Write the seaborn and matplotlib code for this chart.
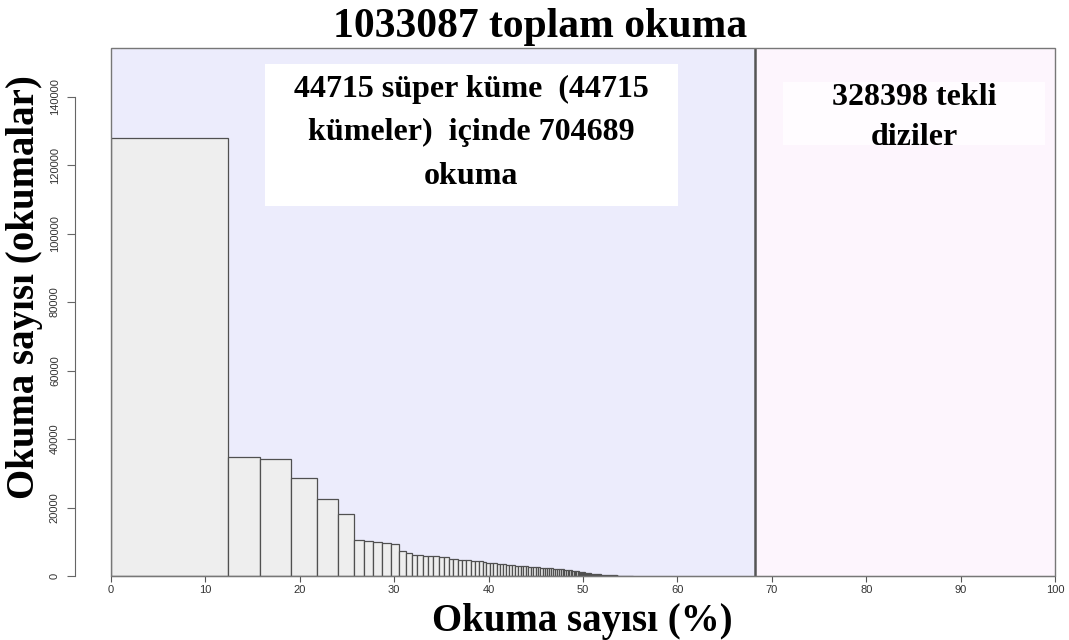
import numpy as np
import pandas as pd
import matplotlib
matplotlib.use("Agg")
import matplotlib.pyplot as plt
import seaborn as sns
from matplotlib.patches import Rectangle

# Read totals
total_reads = 1033087
supercluster_reads = 704689
supercluster_count = 44715
singleton_reads = 328398

# Supercluster sizes (reads), largest first, and how many superclusters share each size
cluster_size = [128000, 34800, 34100, 28600, 22500, 18200,
                10400, 10100, 9800, 9500, 9200,
                7200, 6700, 6200, 6000, 5800, 5700, 5600, 5500,
                5000, 4900, 4800, 4700, 4600, 4500, 4400, 4300,
                4000, 3900, 3800, 3700, 3600, 3500, 3400, 3300, 3200,
                3100, 3000, 2950, 2900, 2850, 2800, 2750, 2700, 2650, 2600, 2500,
                2450, 2400, 2350, 2300, 2250, 2200, 2150, 2100, 2050, 2000, 1950, 1900, 1850,
                1800, 1650, 1500, 1350, 1200, 1050, 900, 800, 700, 600, 500,
                400, 300, 250, 200, 150, 100, 60, 40, 25, 15]
cluster_n = [1, 1, 1, 1, 1, 1,
             1, 1, 1, 1, 1,
             1, 1, 1, 1, 1, 2, 1, 1,
             1, 1, 1, 1, 1, 1, 1, 1,
             1, 1, 1, 1, 1, 1, 1, 1, 1,
             1, 1, 1, 1, 1, 1, 1, 1, 1, 1, 1,
             1, 1, 1, 1, 1, 1, 1, 1, 1, 1, 1, 1, 1,
             2, 2, 2, 3, 3, 3, 4, 4, 5, 6, 7,
             9, 12, 14, 18, 24, 40, 60, 80, 120, 200]

y_ticks = [0, 20000, 40000, 60000, 80000, 100000, 120000, 140000]
x_ticks = [0, 10, 20, 30, 40, 50, 60, 70, 80, 90, 100]

title = f"{total_reads} toplam okuma"
super_lines = [f"{supercluster_count} süper küme  ({supercluster_count}",
               f"kümeler)  içinde {supercluster_reads}",
               "okuma"]
single_lines = [f"{singleton_reads} tekli", "diziler"]

# Each bar: width = share of all reads (%), height = reads in that supercluster
sizes = np.repeat(np.array(cluster_size, dtype=float), cluster_n)
widths = sizes / total_reads * 100
edges = np.concatenate([[0.0], np.cumsum(widths)])
bars = pd.DataFrame({"pos": edges[:-1] + widths / 2, "reads": sizes})
split = supercluster_reads / total_reads * 100

sns.set_style("white")
serif = ["Liberation Serif", "DejaVu Serif"]
sans = ["Liberation Sans", "DejaVu Sans"]

fig = plt.figure(figsize=(10.69, 6.40), dpi=100)
ax = fig.add_axes([111 / 1069, 1 - 576 / 640, (1055 - 111) / 1069, (576 - 48) / 640])

ax.axvspan(0, split, color="#ececfc", zorder=0, lw=0)
ax.axvspan(split, 100, color="#fdf5fd", zorder=0, lw=0)

sns.histplot(data=bars, x="pos", weights="reads", bins=edges.tolist(), stat="count",
             color="#eeeeee", edgecolor="#505050", linewidth=0.9, alpha=1,
             ax=ax, zorder=2)

ax.axvline(split, color="#555555", lw=1.8, zorder=3)
ax.add_patch(Rectangle((0, 0), 1, 1, transform=ax.transAxes, fill=False,
                       ec="#777777", lw=1.0, clip_on=False, zorder=5))

ax.set_xlim(0, 100)
ax.set_ylim(0, 154200)

# Annotation boxes, one text line at a time on its own baseline
ax.add_patch(Rectangle((16.36, 108070), 60.05 - 16.36, 149600 - 108070,
                       fc="white", ec="none", zorder=4))
for line, base in zip(super_lines, [139900, 127300, 114500]):
    ax.text(38.15, base, line, ha="center", va="baseline", fontsize=23,
            fontweight="bold", family=serif, color="black", zorder=6)
ax.add_patch(Rectangle((71.19, 125900), 98.97 - 71.19, 144300 - 125900,
                       fc="#fffcff", ec="none", zorder=4))
for line, base in zip(single_lines, [137600, 126000]):
    ax.text(85.08, base, line, ha="center", va="baseline", fontsize=23,
            fontweight="bold", family=serif, color="black", zorder=6)

# Axes styling
for side in ("top", "right"):
    ax.spines[side].set_visible(False)
ax.spines["bottom"].set_color("#555555")
ax.spines["left"].set_position(("outward", 26))
ax.spines["left"].set_bounds(0, 140000)
ax.spines["left"].set_color("#666666")

ax.set_xticks(x_ticks)
ax.set_xticklabels([str(v) for v in x_ticks], fontsize=8, family=sans, color="#333333")
ax.set_yticks(y_ticks)
ax.set_yticklabels([str(v) for v in y_ticks], fontsize=8, family=sans, color="#333333",
                   rotation=90, va="center")
ax.tick_params(axis="x", direction="out", length=4.3, width=0.8, color="#555555", pad=2.5, bottom=True)
ax.tick_params(axis="y", direction="out", length=5.8, width=0.8, color="#666666", pad=5, left=True)

ax.set_xlabel("")
ax.set_ylabel("")
fig.text(540 / 1069, 1 - 37 / 640, title, ha="center", va="baseline", fontsize=30,
         fontweight="bold", family=serif, color="black")
fig.text(582 / 1069, 1 - 631 / 640, "Okuma sayısı (%)", ha="center", va="baseline",
         fontsize=28, fontweight="bold", family=serif, color="black")
fig.text(34 / 1069, 1 - 287 / 640, "Okuma sayısı (okumalar)", ha="center", va="baseline",
         fontsize=28, fontweight="bold", family=serif, color="black",
         rotation=90, rotation_mode="anchor")

fig.savefig("out.png", dpi=100)
